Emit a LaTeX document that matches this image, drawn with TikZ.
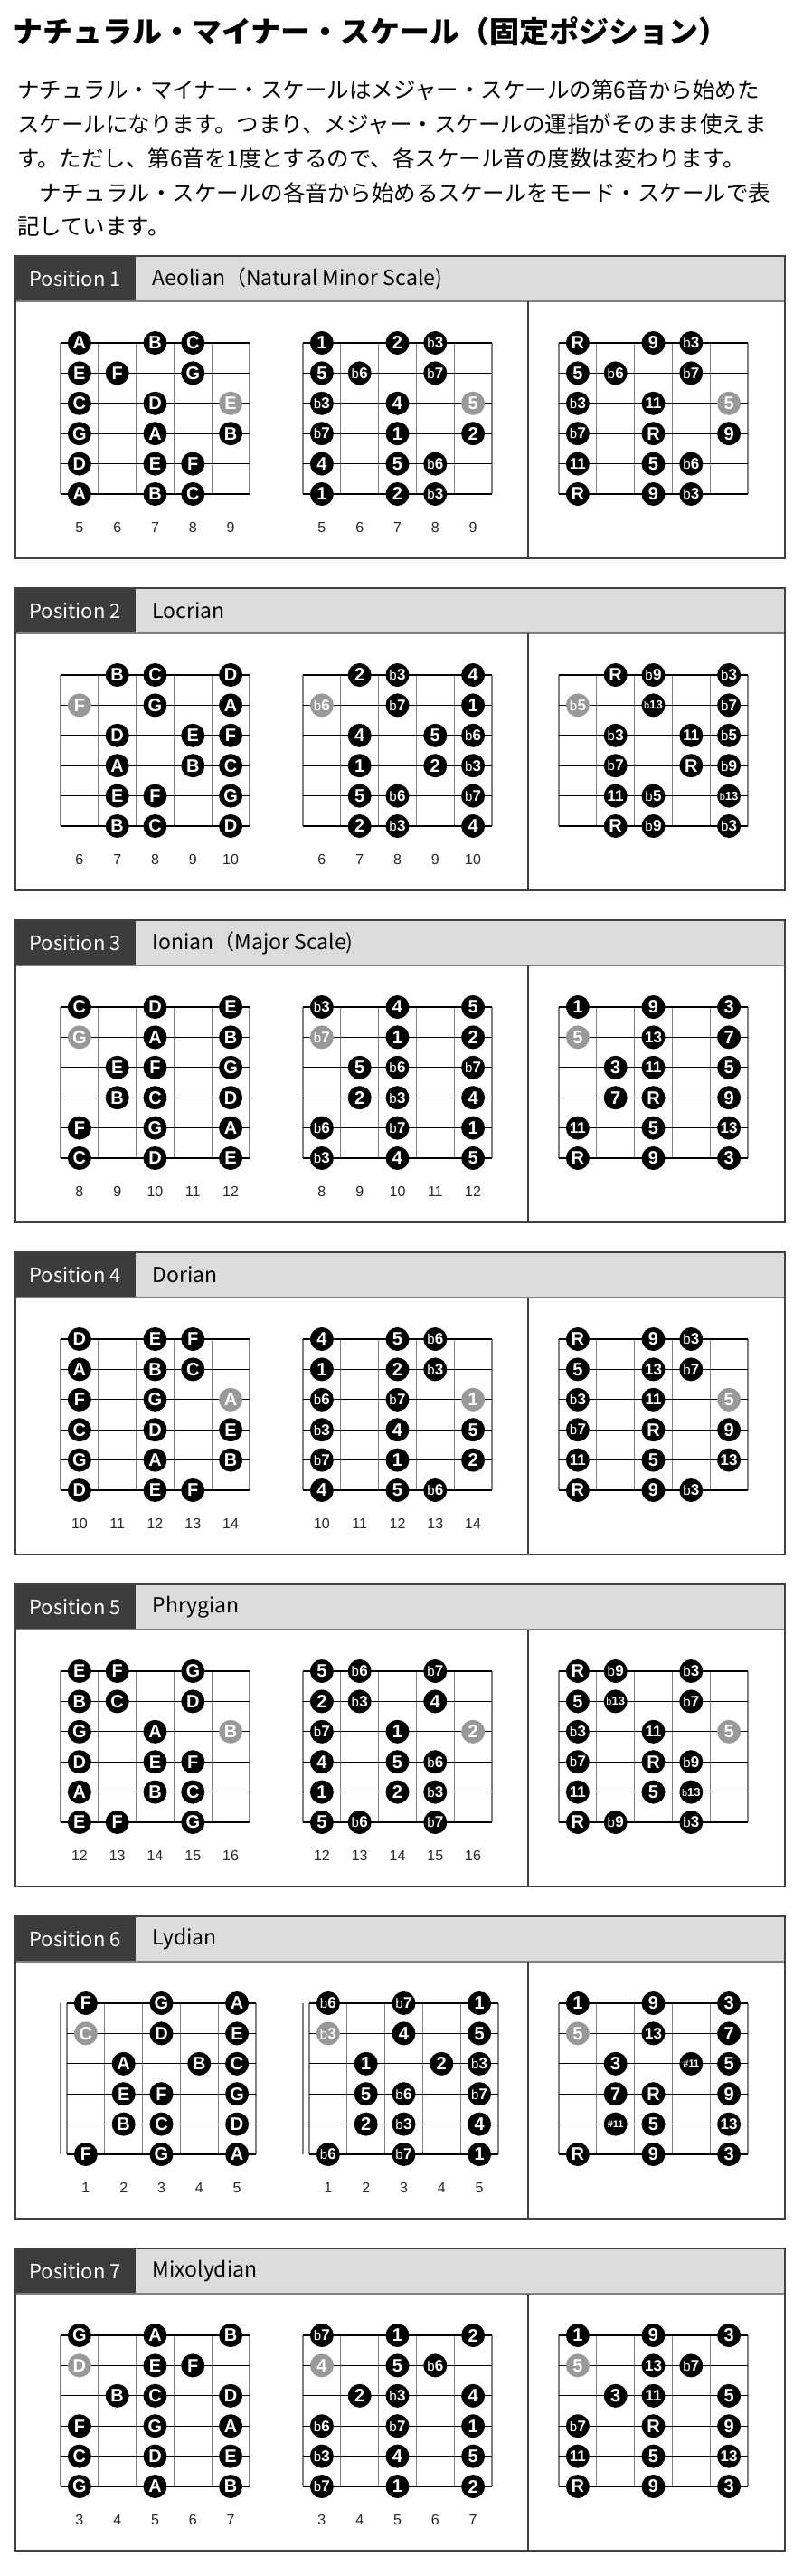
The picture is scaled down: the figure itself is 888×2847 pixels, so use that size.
\documentclass[tikz,border=0pt]{standalone}
\usepackage{fontspec}
\setmainfont{Liberation Sans}
\newfontfamily\jpfont{Noto Sans CJK JP}

\definecolor{tabbg}{HTML}{3C3C3C}
\definecolor{headbg}{HTML}{DCDCDC}
\definecolor{framec}{HTML}{404040}
\definecolor{fretc}{HTML}{808080}
\colorlet{dk}{black}
\colorlet{gr}{black!40}

% labels inside the dots
\newcommand\fl[1]{{\mdseries\fontsize{15}{15}\selectfont b}\kern0.3pt{\fontsize{17}{17}\selectfont#1}}
\newcommand\flt[1]{{\mdseries\fontsize{11}{11}\selectfont b}{\fontsize{13}{13}\selectfont#1}}
\newcommand\tw[1]{{\fontsize{17}{17}\selectfont#1}}
\newcommand\sh[1]{{\fontsize{11}{11}\selectfont\##1}}

\tikzset{
  panelframe/.style={draw=framec, line width=1.5pt},
  fretline/.style={draw=fretc, line width=1.1pt},
  stringline/.style={draw=black, line width=1.2pt},
  dot/.style={circle, minimum size=26pt, inner sep=0pt, text=white,
    font=\bfseries\fontsize{20}{20}\selectfont},
  fretnum/.style={text=black!85, font=\fontsize{16}{16}\selectfont},
  tabtext/.style={anchor=west, text=white, font=\jpfont\fontsize{22}{22}\selectfont},
  modetext/.style={anchor=west, font=\jpfont\fontsize{23}{23}\selectfont},
  titletext/.style={anchor=west, font=\jpfont\bfseries\fontsize{33}{33}\selectfont},
  bodytext/.style={anchor=west, inner sep=0pt, font=\jpfont\fontsize{24.5}{24.5}\selectfont}
}

% #1 number, #2 top y, #3 mode
\newcommand\panel[3]{
  \fill[headbg] (17,#2) rectangle (868,#2+50);
  \fill[tabbg] (17,#2) rectangle (150,#2+50);
  \draw[fretline] (17,#2+50) -- (868,#2+50);
  \draw[panelframe] (584,#2+50) -- (584,#2+334);
  \draw[panelframe] (17,#2) rectangle (868,#2+334);
  \node[tabtext] (pos#1) at (29,#2+25) {Position #1};
  \node[modetext] (mode#1) at (165,#2+25) {#3};
}

% #1 left x, #2 top string y
\newcommand\fretboard[2]{
  \foreach \f in {0,...,5}
    \draw[fretline] (#1+\f*41.8,#2) -- (#1+\f*41.8,#2+167);
  \foreach \s in {0,...,5}
    \draw[stringline] (#1,#2+\s*33.4) -- (#1+209,#2+\s*33.4);
}

% #1 name, #2 left x, #3 y, #4 first fret
\newcommand\fretnums[4]{
  \foreach \i [count=\n from #4] in {0,...,4}
    \node[fretnum] (#1-\n) at (#2+20.9+\i*41.8,#3) {\n};
}

% #1 panel, #2 top string y, #3 shift of the first two boards, #4 fret/string/note/degree/tension/colour
\newcommand\scaledots[4]{
  \foreach \cl/\rw/\nn/\dg/\tn/\kk in {#4}{
    \node[dot, fill=\kk] (n#1-\rw-\cl) at (67+#3+20.9+\cl*41.8,#2+\rw*33.4-33.4) {\nn};
    \node[dot, fill=\kk] (d#1-\rw-\cl) at (335+#3+20.9+\cl*41.8,#2+\rw*33.4-33.4) {\dg};
    \node[dot, fill=\kk] (t#1-\rw-\cl) at (618+20.9+\cl*41.8,#2+\rw*33.4-33.4) {\tn};
  }
}

\begin{document}
\begin{tikzpicture}[x=1pt, y=-1pt]
\useasboundingbox (0,0) rectangle (888,2847);
\fill[white] (0,0) rectangle (888,2847);

\node[titletext] (title) at (11,35) {ナチュラル・マイナー・スケール（固定ポジション）};
\node[bodytext] (line1) at (19,99) {ナチュラル・マイナー・スケールはメジャー・スケールの第6音から始めた};
\node[bodytext] (line2) at (19,137) {スケールになります。つまり、メジャー・スケールの運指がそのまま使えま};
\node[bodytext] (line3) at (19,175) {す。ただし、第6音を1度とするので、各スケール音の度数は変わります。};
\node[bodytext] (line4) at (19,213) {　ナチュラル・スケールの各音から始めるスケールをモード・スケールで表};
\node[bodytext] (line5) at (19,250) {記しています。};

% Position 1
\panel{1}{283}{Aeolian（Natural Minor Scale)}
\fretboard{67}{379} \fretboard{335}{379} \fretboard{618}{379}
\fretnums{fa1}{67}{583}{5} \fretnums{fb1}{335}{583}{5}
\scaledots{1}{379}{0}{
  0/1/A/1/R/dk, 2/1/B/2/9/dk, 3/1/C/\fl3/\fl3/dk,
  0/2/E/5/5/dk, 1/2/F/\fl6/\fl6/dk, 3/2/G/\fl7/\fl7/dk,
  0/3/C/\fl3/\fl3/dk, 2/3/D/4/\tw{11}/dk, 4/3/E/5/5/gr,
  0/4/G/\fl7/\fl7/dk, 2/4/A/1/R/dk, 4/4/B/2/9/dk,
  0/5/D/4/\tw{11}/dk, 2/5/E/5/5/dk, 3/5/F/\fl6/\fl6/dk,
  0/6/A/1/R/dk, 2/6/B/2/9/dk, 3/6/C/\fl3/\fl3/dk}

% Position 2
\panel{2}{650}{Locrian}
\fretboard{67}{746} \fretboard{335}{746} \fretboard{618}{746}
\fretnums{fa2}{67}{950}{6} \fretnums{fb2}{335}{950}{6}
\scaledots{2}{746}{0}{
  1/1/B/2/R/dk, 2/1/C/\fl3/\fl9/dk, 4/1/D/4/\fl3/dk,
  0/2/F/\fl6/\fl5/gr, 2/2/G/\fl7/\flt{13}/dk, 4/2/A/1/\fl7/dk,
  1/3/D/4/\fl3/dk, 3/3/E/5/\tw{11}/dk, 4/3/F/\fl6/\fl5/dk,
  1/4/A/1/\fl7/dk, 3/4/B/2/R/dk, 4/4/C/\fl3/\fl9/dk,
  1/5/E/5/\tw{11}/dk, 2/5/F/\fl6/\fl5/dk, 4/5/G/\fl7/\flt{13}/dk,
  1/6/B/2/R/dk, 2/6/C/\fl3/\fl9/dk, 4/6/D/4/\fl3/dk}

% Position 3
\panel{3}{1017}{Ionian（Major Scale)}
\fretboard{67}{1113} \fretboard{335}{1113} \fretboard{618}{1113}
\fretnums{fa3}{67}{1317}{8} \fretnums{fb3}{335}{1317}{8}
\scaledots{3}{1113}{0}{
  0/1/C/\fl3/1/dk, 2/1/D/4/9/dk, 4/1/E/5/3/dk,
  0/2/G/\fl7/5/gr, 2/2/A/1/\tw{13}/dk, 4/2/B/2/7/dk,
  1/3/E/5/3/dk, 2/3/F/\fl6/\tw{11}/dk, 4/3/G/\fl7/5/dk,
  1/4/B/2/7/dk, 2/4/C/\fl3/R/dk, 4/4/D/4/9/dk,
  0/5/F/\fl6/\tw{11}/dk, 2/5/G/\fl7/5/dk, 4/5/A/1/\tw{13}/dk,
  0/6/C/\fl3/R/dk, 2/6/D/4/9/dk, 4/6/E/5/3/dk}

% Position 4
\panel{4}{1384}{Dorian}
\fretboard{67}{1480} \fretboard{335}{1480} \fretboard{618}{1480}
\fretnums{fa4}{67}{1684}{10} \fretnums{fb4}{335}{1684}{10}
\scaledots{4}{1480}{0}{
  0/1/D/4/R/dk, 2/1/E/5/9/dk, 3/1/F/\fl6/\fl3/dk,
  0/2/A/1/5/dk, 2/2/B/2/\tw{13}/dk, 3/2/C/\fl3/\fl7/dk,
  0/3/F/\fl6/\fl3/dk, 2/3/G/\fl7/\tw{11}/dk, 4/3/A/1/5/gr,
  0/4/C/\fl3/\fl7/dk, 2/4/D/4/R/dk, 4/4/E/5/9/dk,
  0/5/G/\fl7/\tw{11}/dk, 2/5/A/1/5/dk, 4/5/B/2/\tw{13}/dk,
  0/6/D/4/R/dk, 2/6/E/5/9/dk, 3/6/F/\fl6/\fl3/dk}

% Position 5
\panel{5}{1751}{Phrygian}
\fretboard{67}{1847} \fretboard{335}{1847} \fretboard{618}{1847}
\fretnums{fa5}{67}{2051}{12} \fretnums{fb5}{335}{2051}{12}
\scaledots{5}{1847}{0}{
  0/1/E/5/R/dk, 1/1/F/\fl6/\fl9/dk, 3/1/G/\fl7/\fl3/dk,
  0/2/B/2/5/dk, 1/2/C/\fl3/\flt{13}/dk, 3/2/D/4/\fl7/dk,
  0/3/G/\fl7/\fl3/dk, 2/3/A/1/\tw{11}/dk, 4/3/B/2/5/gr,
  0/4/D/4/\fl7/dk, 2/4/E/5/R/dk, 3/4/F/\fl6/\fl9/dk,
  0/5/A/1/\tw{11}/dk, 2/5/B/2/5/dk, 3/5/C/\fl3/\flt{13}/dk,
  0/6/E/5/R/dk, 1/6/F/\fl6/\fl9/dk, 3/6/G/\fl7/\fl3/dk}

% Position 6 (with nut)
\panel{6}{2118}{Lydian}
\draw[fretline] (67,2214) -- (67,2381);
\draw[fretline] (335,2214) -- (335,2381);
\fretboard{74}{2214} \fretboard{342}{2214} \fretboard{618}{2214}
\fretnums{fa6}{74}{2418}{1} \fretnums{fb6}{342}{2418}{1}
\scaledots{6}{2214}{7}{
  0/1/F/\fl6/1/dk, 2/1/G/\fl7/9/dk, 4/1/A/1/3/dk,
  0/2/C/\fl3/5/gr, 2/2/D/4/\tw{13}/dk, 4/2/E/5/7/dk,
  1/3/A/1/3/dk, 3/3/B/2/\sh{11}/dk, 4/3/C/\fl3/5/dk,
  1/4/E/5/7/dk, 2/4/F/\fl6/R/dk, 4/4/G/\fl7/9/dk,
  1/5/B/2/\sh{11}/dk, 2/5/C/\fl3/5/dk, 4/5/D/4/\tw{13}/dk,
  0/6/F/\fl6/R/dk, 2/6/G/\fl7/9/dk, 4/6/A/1/3/dk}

% Position 7
\panel{7}{2485}{Mixolydian}
\fretboard{67}{2581} \fretboard{335}{2581} \fretboard{618}{2581}
\fretnums{fa7}{67}{2785}{3} \fretnums{fb7}{335}{2785}{3}
\scaledots{7}{2581}{0}{
  0/1/G/\fl7/1/dk, 2/1/A/1/9/dk, 4/1/B/2/3/dk,
  0/2/D/4/5/gr, 2/2/E/5/\tw{13}/dk, 3/2/F/\fl6/\fl7/dk,
  1/3/B/2/3/dk, 2/3/C/\fl3/\tw{11}/dk, 4/3/D/4/5/dk,
  0/4/F/\fl6/\fl7/dk, 2/4/G/\fl7/R/dk, 4/4/A/1/9/dk,
  0/5/C/\fl3/\tw{11}/dk, 2/5/D/4/5/dk, 4/5/E/5/\tw{13}/dk,
  0/6/G/\fl7/R/dk, 2/6/A/1/9/dk, 4/6/B/2/3/dk}
\end{tikzpicture}
\end{document}
